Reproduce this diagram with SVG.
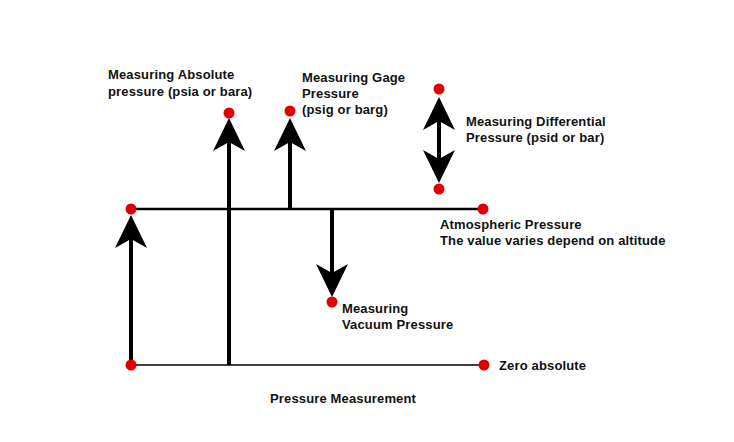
<svg xmlns="http://www.w3.org/2000/svg" width="734" height="442" viewBox="0 0 734 442">
<style>
text{font-family:"Liberation Sans",Arial,sans-serif;font-weight:bold;font-size:13px;letter-spacing:0.15px;fill:#111}
.dot{fill:#e00000}
.ln{stroke:#000;fill:none}
.ar{fill:#000}
</style>
<defs>
<path id="headUp" d="M0,0 L16,33 L0,24 L-16,33 Z"/>
</defs>
<rect width="734" height="442" fill="#fff"/>
<g id="connectors">
<line class="ln" x1="131" y1="209" x2="483" y2="209" stroke-width="2.5"/>
<line class="ln" x1="131" y1="365" x2="484" y2="365" stroke-width="1.5"/>
<line class="ln" x1="131" y1="365" x2="131" y2="232" stroke-width="4"/>
<use href="#headUp" class="ar" transform="translate(131,215)"/>
<line class="ln" x1="229" y1="365" x2="229" y2="136" stroke-width="4"/>
<use href="#headUp" class="ar" transform="translate(229,118)"/>
<line class="ln" x1="290" y1="209" x2="290" y2="136" stroke-width="4"/>
<use href="#headUp" class="ar" transform="translate(290,118)"/>
<line class="ln" x1="332" y1="209" x2="332" y2="280" stroke-width="4"/>
<use href="#headUp" class="ar" transform="translate(332,297) scale(1,-1)"/>
<line class="ln" x1="439" y1="115" x2="439" y2="165" stroke-width="4"/>
<use href="#headUp" class="ar" transform="translate(439,97)"/>
<use href="#headUp" class="ar" transform="translate(439,183) scale(1,-1)"/>
</g>
<g id="atmospheric">
<circle class="dot" cx="131" cy="209" r="5.5"/>
<circle class="dot" cx="483" cy="209" r="5.5"/>
<text x="440" y="229">Atmospheric Pressure</text>
<text x="440" y="245">The value varies depend on altitude</text>
</g>
<g id="zero">
<circle class="dot" cx="131" cy="365" r="5.5"/>
<circle class="dot" cx="484" cy="365" r="5.5"/>
<text x="499" y="370">Zero absolute</text>
</g>
<g id="absolute">
<circle class="dot" cx="229" cy="113" r="5.5"/>
<text x="108" y="79">Measuring Absolute</text>
<text x="108" y="96">pressure (psia or bara)</text>
</g>
<g id="gage">
<circle class="dot" cx="290" cy="111" r="5.5"/>
<text x="302" y="82">Measuring Gage</text>
<text x="302" y="98">Pressure</text>
<text x="302" y="114">(psig or barg)</text>
</g>
<g id="differential">
<circle class="dot" cx="439" cy="89" r="5.5"/>
<circle class="dot" cx="439" cy="189" r="5.5"/>
<text x="466" y="126">Measuring Differential</text>
<text x="466" y="142">Pressure (psid or bar)</text>
</g>
<g id="vacuum">
<circle class="dot" cx="332" cy="302" r="5.5"/>
<text x="342" y="313">Measuring</text>
<text x="342" y="329">Vacuum Pressure</text>
</g>
<g id="title">
<text x="270" y="403">Pressure Measurement</text>
</g>
</svg>
